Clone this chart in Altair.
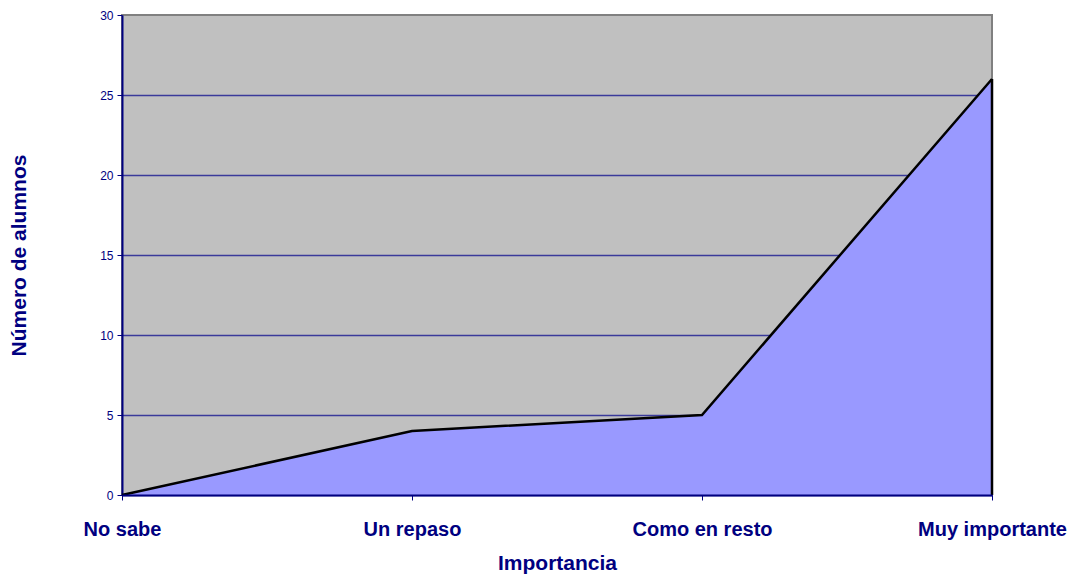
import altair as alt
import pandas as pd

categories = ["No sabe", "Un repaso", "Como en resto", "Muy importante"]
values = [0, 4, 5, 26]
y_ticks = [0, 5, 10, 15, 20, 25, 30]

df = pd.DataFrame({"Importancia": categories, "Alumnos": values})

NAVY = "#000080"
FONT = "Liberation Sans"

x_enc = alt.X(
    "Importancia:N",
    sort=categories,
    scale=alt.Scale(type="point", padding=0),
    axis=alt.Axis(
        title="Importancia", labelAngle=0, labelFont=FONT, labelFontSize=20,
        labelFontWeight="bold", labelColor=NAVY, labelPadding=35,
        labelBaseline="alphabetic", tickSize=5, tickColor=NAVY, tickWidth=1,
        domainColor=NAVY, domainWidth=2, grid=False,
        titleFont=FONT, titleFontSize=21, titleFontWeight="bold", titleColor=NAVY,
        titleBaseline="alphabetic", titleY=74, titleX=435, titleAlign="center",
        zindex=1,
    ),
)

y_enc = alt.Y(
    "Alumnos:Q",
    scale=alt.Scale(domain=[0, 30], nice=False),
    axis=alt.Axis(
        title="Número de alumnos", values=y_ticks, labelFont=FONT, labelFontSize=12,
        labelColor=NAVY, labelPadding=4, tickSize=5, tickColor=NAVY, tickWidth=1,
        domainColor=NAVY, domainWidth=2, grid=True, gridColor="#3A3A9A", gridWidth=1.6,
        gridOpacity={"condition": {"test": "datum.value === 30", "value": 0}, "value": 1},
        titleFont=FONT, titleFontSize=21, titleFontWeight="bold", titleColor=NAVY,
        titleAngle=270, titleX=-103, titleY=240, titleAlign="center",
        titleBaseline="middle", zindex=0,
    ),
)

area = alt.Chart(df).mark_area(
    color="#9999FF", opacity=1,
    line={"color": "black", "strokeWidth": 2.5},
).encode(x=x_enc, y=y_enc)

edge = alt.Chart(df).transform_filter(
    alt.datum.Importancia == categories[-1]
).mark_rule(color="black", strokeWidth=2.5).encode(
    x=alt.X("Importancia:N", sort=categories), y="Alumnos:Q", y2=alt.datum(0)
)

chart = alt.layer(area, edge).properties(
    width=870, height=480,
    padding={"left": 114, "top": 7, "right": 76, "bottom": 80},
    autosize="none",
).configure_view(fill="#C0C0C0", stroke="#808080", strokeWidth=2)

chart.save("out.html", embed_options={"renderer": "svg", "actions": False})
